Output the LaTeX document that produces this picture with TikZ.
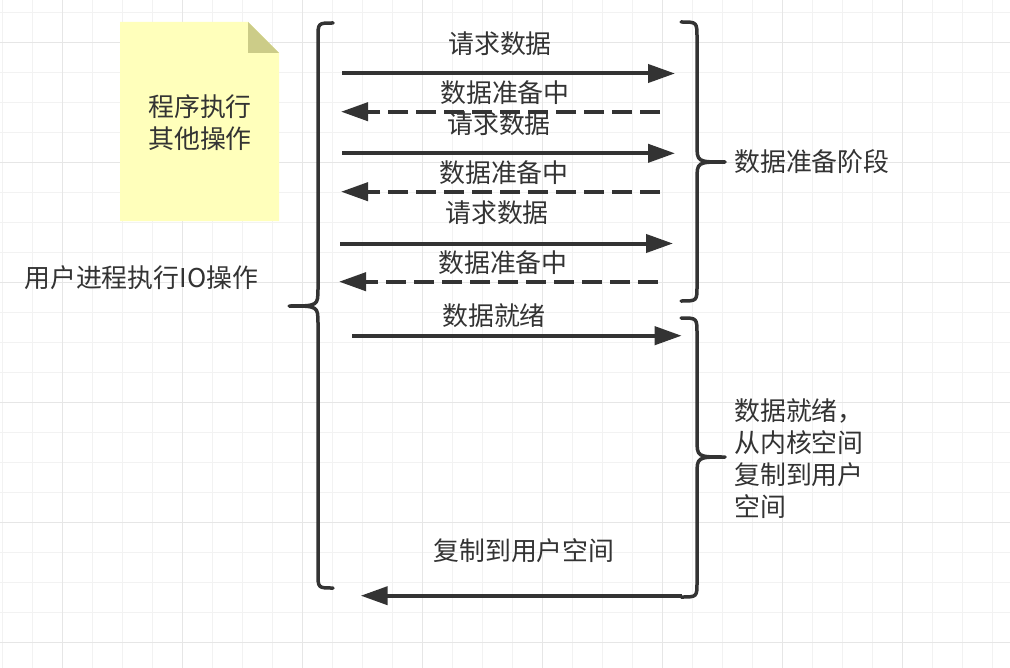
\documentclass[tikz,border=0pt]{standalone}
\usepackage{fontspec}
\setmainfont{Noto Sans CJK SC}
\usetikzlibrary{arrows.meta}
\definecolor{ink}{HTML}{333333}
\definecolor{gridminor}{HTML}{F2F2F2}
\definecolor{gridmajor}{HTML}{E6E6E6}
\definecolor{notefill}{HTML}{FFFFBB}
\definecolor{notefold}{HTML}{CCCC88}

\begin{document}
\begin{tikzpicture}[x=1bp, y=-1bp,
  lbl/.style={text=ink, font=\fontsize{26}{32}\selectfont, inner sep=0pt},
  call/.style={draw=ink, line width=4bp, -{Triangle[length=27bp,width=18bp]}},
  reply/.style={call, dash pattern=on 20bp off 8bp},
  brace/.style={draw=ink, line width=3.5bp, line cap=round, line join=round}
]
\useasboundingbox (0,0) rectangle (1010,668);
\fill[white] (0,0) rectangle (1010,668);
% grid
\foreach \gx in {2.7,32.7,...,1010} \draw[gridminor, line width=1.5bp] (\gx,0) -- (\gx,668);
\foreach \gy in {12.7,42.7,...,668} \draw[gridminor, line width=1.5bp] (0,\gy) -- (1010,\gy);
\foreach \gx in {62.7,182.7,...,1010} \draw[gridmajor, line width=1.5bp] (\gx,0) -- (\gx,668);
\foreach \gy in {42.7,162.7,...,668} \draw[gridmajor, line width=1.5bp] (0,\gy) -- (1010,\gy);

% note
\fill[notefill] (120,22) -- (248,22) -- (279,53) -- (279,221) -- (120,221) -- cycle;
\fill[notefold] (248,22) -- (248,53) -- (279,53) -- cycle;
\node[lbl, align=center] (other) at (200,123) {程序执行\\其他操作};

\node[lbl, anchor=west] (user) at (24,278) {用户进程执行IO操作};

% braces
\draw[brace] (333,23) .. controls (318,23) .. (318,38) -- (318,288)
  .. controls (318,306) .. (289,306) .. controls (318,306) .. (318,324)
  -- (318,573) .. controls (318,588) .. (333,588);
\draw[brace] (681,22) .. controls (697,22) .. (697,38) -- (697,144)
  .. controls (697,162) .. (725,162) .. controls (697,162) .. (697,180)
  -- (697,286) .. controls (697,301) .. (681,301);
\draw[brace] (681,318) .. controls (697,318) .. (697,334) -- (697,439)
  .. controls (697,457) .. (725,457) .. controls (697,457) .. (697,475)
  -- (697,582) .. controls (697,597) .. (681,597);

\node[lbl, anchor=west] (prep) at (734,162) {数据准备阶段};
\node[lbl, anchor=west, align=left] (copy) at (734,458.7) {数据就绪，\\从内核空间\\复制到用户\\空间};

% requests and replies
\coordinate (ask1a) at (342,73.5);   \coordinate (ask1b) at (675,73.5);
\coordinate (wait1a) at (660,111.7); \coordinate (wait1b) at (341,111.7);
\coordinate (ask2a) at (342,153.3);  \coordinate (ask2b) at (675,153.3);
\coordinate (wait2a) at (660,191.7); \coordinate (wait2b) at (341,191.7);
\coordinate (ask3a) at (340,243.5);  \coordinate (ask3b) at (673,243.5);
\coordinate (wait3a) at (658,281.7); \coordinate (wait3b) at (339,281.7);
\coordinate (readya) at (352,335.7); \coordinate (readyb) at (681.7,335.7);
\coordinate (backa) at (681.7,595.7); \coordinate (backb) at (360.7,595.7);

\node[lbl] (ask1) at (500,43.5) {请求数据};
\node[lbl] (wait1) at (505,93) {数据准备中};
\node[lbl] (ask2) at (499,124) {请求数据};
\node[lbl] (wait2) at (504,173) {数据准备中};
\node[lbl] (ask3) at (497,213) {请求数据};
\node[lbl] (wait3) at (503,263) {数据准备中};
\node[lbl] (ready) at (494,315.5) {数据就绪};
\node[lbl] (back) at (524,551) {复制到用户空间};

\draw[call] (ask1a) -- (ask1b);
\draw[reply] (wait1a) -- (wait1b);
\draw[call] (ask2a) -- (ask2b);
\draw[reply] (wait2a) -- (wait2b);
\draw[call] (ask3a) -- (ask3b);
\draw[reply] (wait3a) -- (wait3b);
\draw[call] (readya) -- (readyb);
\draw[call] (backa) -- (backb);
\end{tikzpicture}
\end{document}
